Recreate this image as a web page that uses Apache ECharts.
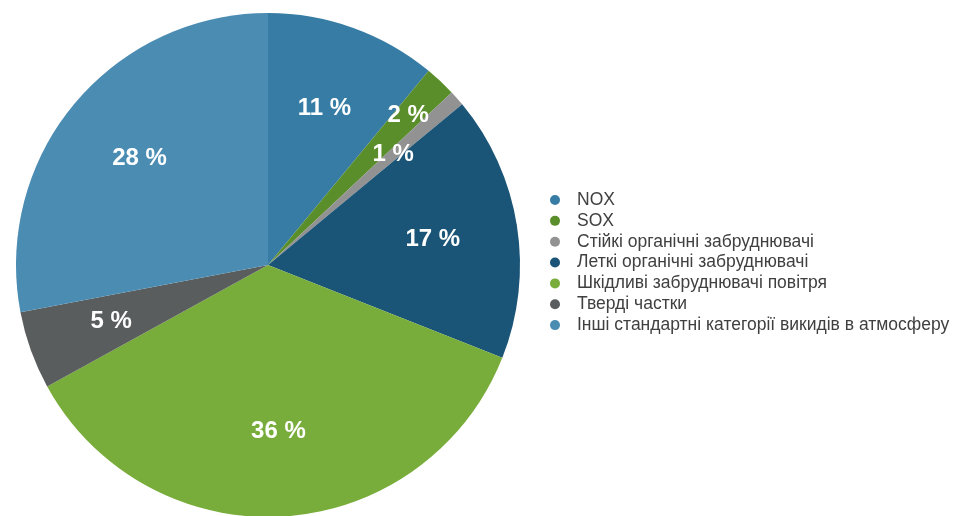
<!DOCTYPE html>
<html>
<head>
<meta charset="utf-8">
<script src="https://cdn.jsdelivr.net/npm/echarts@6/dist/echarts.min.js"></script>
<style>
  html, body { margin: 0; padding: 0; background: #ffffff; }
  #chart { width: 960px; height: 516px; }
</style>
</head>
<body>
<div id="chart"></div>
<script>
// Emission categories and their shares, %
const categories = [
  'NOX',
  'SOX',
  'Стійкі органічні забруднювачі',
  'Леткі органічні забруднювачі',
  'Шкідливі забруднювачі повітря',
  'Тверді частки',
  'Інші стандартні категорії викидів в атмосферу'
];
const shares = [11, 2, 1, 17, 36, 5, 28];
const colors = ['#367ca4', '#5a8e2a', '#929292', '#1a5476', '#79ad3b', '#595d5d', '#4b8cb3'];

// The 2 % slice carries its label further out than the others
const outerLabelNames = ['SOX'];

const center = [268, 265];
const R = 252;

const baseData = categories.map((name, i) => ({
  name, value: shares[i], itemStyle: { color: colors[i] }
}));

const labelStyle = {
  position: 'inside',
  formatter: '{c} %',
  color: '#ffffff',
  fontFamily: 'Liberation Sans, Arial, sans-serif',
  fontWeight: 'bold',
  fontSize: 24,
  padding: [6, 0, 0, 0]
};

function labelLayer(radius, pick) {
  return {
    type: 'pie',
    center, radius,
    startAngle: 90,
    silent: true,
    itemStyle: { color: 'rgba(0,0,0,0)' },
    emphasis: { disabled: true },
    labelLine: { show: false },
    label: labelStyle,
    data: categories.map((name, i) => ({
      name, value: shares[i],
      itemStyle: { color: 'rgba(0,0,0,0)' },
      label: { show: pick(name) }
    }))
  };
}

const chart = echarts.init(document.getElementById('chart'), null, { renderer: 'canvas' });
chart.setOption({
  animation: false,
  backgroundColor: '#ffffff',
  legend: {
    orient: 'vertical',
    left: 545,
    top: 186,
    icon: 'circle',
    itemWidth: 34,
    itemHeight: 10,
    itemGap: 2.85,
    data: categories,
    textStyle: {
      color: '#404040',
      fontFamily: 'Liberation Sans, Arial, sans-serif',
      fontSize: 17.5
    }
  },
  series: [
    {
      type: 'pie',
      center,
      radius: [0, R],
      startAngle: 90,
      label: { show: false },
      labelLine: { show: false },
      emphasis: { disabled: true },
      data: baseData
    },
    labelLayer([R * 0.3, R], n => outerLabelNames.indexOf(n) < 0),
    labelLayer([R * 0.6, R], n => outerLabelNames.indexOf(n) >= 0)
  ]
});
</script>
</body>
</html>
